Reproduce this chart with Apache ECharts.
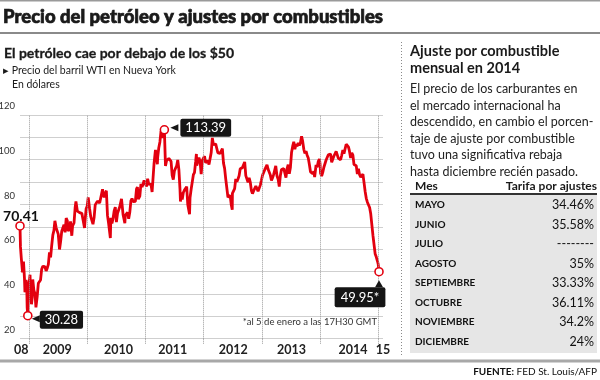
<!DOCTYPE html>
<html><head><meta charset="utf-8">
<script src="https://cdn.jsdelivr.net/npm/echarts@6/dist/echarts.min.js"></script>
<style>html,body{margin:0;padding:0;background:#fff}#c{width:600px;height:380px}</style>
</head><body><div id="c"></div>
<script>
const dates = [
'2008-11-04','2008-11-07','2008-11-12','2008-11-14','2008-11-20','2008-11-21','2008-11-26','2008-12-02','2008-12-05','2008-12-09','2008-12-12','2008-12-16','2008-12-19','2008-12-23','2008-12-26','2008-12-31',
'2009-01-06','2009-01-09','2009-01-15','2009-01-20','2009-01-23','2009-01-30','2009-02-06','2009-02-12','2009-02-18','2009-02-20','2009-02-27','2009-03-06','2009-03-13','2009-03-20','2009-03-27','2009-04-03','2009-04-09','2009-04-17','2009-04-24','2009-05-01','2009-05-08','2009-05-15','2009-05-22','2009-05-29','2009-06-05','2009-06-11','2009-06-19','2009-06-26','2009-07-02','2009-07-10','2009-07-17','2009-07-24','2009-07-31','2009-08-07','2009-08-14','2009-08-21','2009-08-28','2009-09-02','2009-09-11','2009-09-17','2009-09-25','2009-09-30','2009-10-09','2009-10-16','2009-10-21','2009-10-30','2009-11-06','2009-11-13','2009-11-20','2009-11-27','2009-12-04','2009-12-14','2009-12-18','2009-12-24','2009-12-31',
'2010-01-06','2010-01-15','2010-01-22','2010-01-29','2010-02-05','2010-02-12','2010-02-19','2010-02-26','2010-03-05','2010-03-12','2010-03-19','2010-03-26','2010-04-06','2010-04-09','2010-04-16','2010-04-23','2010-04-30','2010-05-07','2010-05-14','2010-05-20','2010-05-25','2010-05-28','2010-06-04','2010-06-11','2010-06-18','2010-06-25','2010-07-02','2010-07-09','2010-07-16','2010-07-23','2010-07-30','2010-08-03','2010-08-13','2010-08-24','2010-08-27','2010-09-03','2010-09-10','2010-09-17','2010-09-24','2010-10-01','2010-10-08','2010-10-15','2010-10-22','2010-10-29','2010-11-05','2010-11-11','2010-11-16','2010-11-19','2010-11-26','2010-12-03','2010-12-10','2010-12-17','2010-12-23','2010-12-31',
'2011-01-03','2011-01-07','2011-01-14','2011-01-21','2011-01-28','2011-02-04','2011-02-11','2011-02-18','2011-02-23','2011-02-25','2011-03-04','2011-03-11','2011-03-16','2011-03-18','2011-03-25','2011-04-01','2011-04-08','2011-04-15','2011-04-21','2011-04-29','2011-05-06','2011-05-13','2011-05-20','2011-05-27','2011-06-03','2011-06-10','2011-06-17','2011-06-24','2011-07-01','2011-07-08','2011-07-15','2011-07-22','2011-07-29','2011-08-05','2011-08-08','2011-08-12','2011-08-19','2011-08-26','2011-09-02','2011-09-09','2011-09-16','2011-09-23','2011-09-30','2011-10-04','2011-10-07','2011-10-14','2011-10-21','2011-10-28','2011-11-04','2011-11-11','2011-11-16','2011-11-18','2011-11-25','2011-12-02','2011-12-09','2011-12-16','2011-12-23','2011-12-30',
'2012-01-06','2012-01-13','2012-01-20','2012-01-27','2012-02-03','2012-02-10','2012-02-17','2012-02-24','2012-03-02','2012-03-09','2012-03-16','2012-03-23','2012-03-30','2012-04-06','2012-04-13','2012-04-20','2012-04-27','2012-05-04','2012-05-11','2012-05-18','2012-05-25','2012-06-01','2012-06-08','2012-06-15','2012-06-22','2012-06-28','2012-06-29','2012-07-06','2012-07-13','2012-07-20','2012-07-27','2012-08-03','2012-08-10','2012-08-17','2012-08-24','2012-08-31','2012-09-07','2012-09-14','2012-09-21','2012-09-28','2012-10-05','2012-10-12','2012-10-19','2012-10-26','2012-11-02','2012-11-09','2012-11-16','2012-11-23','2012-11-30','2012-12-07','2012-12-14','2012-12-21','2012-12-28',
'2013-01-04','2013-01-11','2013-01-18','2013-01-25','2013-02-01','2013-02-08','2013-02-15','2013-02-22','2013-03-01','2013-03-08','2013-03-15','2013-03-22','2013-03-28','2013-04-05','2013-04-12','2013-04-19','2013-04-26','2013-05-03','2013-05-10','2013-05-17','2013-05-24','2013-05-31','2013-06-07','2013-06-14','2013-06-21','2013-06-28','2013-07-05','2013-07-12','2013-07-19','2013-07-26','2013-08-02','2013-08-09','2013-08-16','2013-08-23','2013-08-30','2013-09-06','2013-09-13','2013-09-20','2013-09-27','2013-10-04','2013-10-11','2013-10-18','2013-10-25','2013-11-01','2013-11-08','2013-11-15','2013-11-22','2013-11-27','2013-12-06','2013-12-13','2013-12-20','2013-12-27','2013-12-31',
'2014-01-03','2014-01-10','2014-01-17','2014-01-24','2014-01-31','2014-02-07','2014-02-14','2014-02-21','2014-02-28','2014-03-07','2014-03-14','2014-03-21','2014-03-28','2014-04-04','2014-04-11','2014-04-18','2014-04-25','2014-05-02','2014-05-09','2014-05-16','2014-05-23','2014-05-30','2014-06-06','2014-06-13','2014-06-20','2014-06-27','2014-07-03','2014-07-11','2014-07-18','2014-07-25','2014-08-01','2014-08-08','2014-08-15','2014-08-22','2014-08-29','2014-09-05','2014-09-12','2014-09-19','2014-09-26','2014-10-03','2014-10-10','2014-10-17','2014-10-24','2014-10-31','2014-11-07','2014-11-14','2014-11-21','2014-11-28','2014-12-05','2014-12-12','2014-12-19','2014-12-26','2014-12-31',
'2015-01-02','2015-01-05'];
const prices = [
70.41,61.04,56.16,57.04,49.62,49.93,54.44,46.96,40.81,42.07,46.28,44.60,33.87,30.28,37.71,44.60,
48.58,40.83,35.40,38.74,46.47,41.68,40.17,33.98,34.62,38.94,44.76,45.52,46.25,51.06,52.38,52.51,52.24,50.33,51.55,53.20,58.63,56.34,61.67,66.31,68.44,72.68,69.55,69.16,66.73,59.89,63.56,68.05,69.45,70.93,67.51,73.89,72.74,68.05,69.29,72.47,66.02,70.46,71.77,78.53,81.37,77.00,77.43,76.35,76.72,76.05,75.47,69.51,73.36,78.05,79.36,
83.18,78.00,74.54,72.89,71.19,74.13,79.81,79.66,81.50,81.24,80.68,80.00,86.84,84.92,83.24,85.12,86.15,75.11,71.61,68.01,65.00,74.00,71.51,73.78,77.18,78.86,72.14,76.09,76.01,78.98,78.95,82.55,75.39,71.63,75.17,74.60,76.45,73.66,76.49,81.58,82.66,81.25,81.69,81.43,86.85,87.81,82.34,81.51,83.76,89.19,87.79,88.02,90.76,91.38,
91.55,88.03,91.54,89.11,89.34,89.03,85.58,86.20,98.10,97.88,104.42,101.16,97.98,101.07,105.40,107.94,112.79,109.66,112.29,113.39,97.18,99.65,99.49,100.59,100.22,99.29,93.01,91.16,94.94,96.20,97.24,99.87,95.70,86.88,81.31,85.38,82.26,85.37,86.45,87.24,87.96,79.85,79.20,75.67,82.98,86.80,87.40,93.32,94.26,98.99,102.59,97.41,96.77,100.96,99.41,93.53,99.68,98.83,
101.56,98.70,98.46,99.56,97.84,98.67,103.24,109.77,106.70,107.40,107.06,106.87,103.02,103.31,102.83,103.05,104.93,98.49,96.13,91.48,90.86,83.23,84.10,84.03,79.76,77.69,84.96,84.45,87.10,91.44,90.13,91.40,92.87,96.01,96.15,96.47,96.42,99.00,92.89,92.19,89.88,91.86,90.05,86.28,84.86,86.07,86.67,88.28,88.91,85.93,86.73,88.66,90.80,
93.09,93.56,95.56,95.88,97.77,95.72,95.86,93.13,90.68,91.95,93.45,93.71,97.23,92.70,91.29,88.01,93.00,95.61,96.04,96.02,94.15,91.97,96.03,97.85,93.69,96.56,103.22,105.95,108.05,104.70,106.94,106.03,107.46,106.42,107.65,110.53,108.21,104.67,102.87,103.84,102.02,100.81,97.85,94.61,94.60,93.84,94.84,92.30,97.65,96.60,99.32,100.32,98.17,
93.96,92.72,94.37,96.64,97.49,99.88,100.30,102.20,102.59,102.58,98.89,99.46,101.67,101.14,103.74,104.30,100.60,99.76,99.99,102.02,104.35,102.71,102.66,106.91,107.26,105.74,104.06,100.83,103.13,102.09,97.88,97.65,97.35,93.65,95.96,93.29,92.27,92.41,93.54,89.74,85.82,82.75,81.01,80.54,78.65,75.82,76.51,66.15,65.84,57.81,56.52,54.73,53.27,
52.69,49.95];

const yearStarts = ['2009-01-01','2010-01-01','2011-01-01','2012-01-01','2013-01-01','2014-01-01','2015-01-01'];
const xLabelDates = ['2008-11-12','2009-06-25','2010-07-15','2011-06-20','2012-07-05','2013-07-05','2014-07-25','2015-01-30'];
const xLabelTexts = ['08','2009','2010','2011','2012','2013','2014','15'];

const callouts = [
  {date:'2008-11-04', value:70.41, text:'70.41'},
  {date:'2008-12-23', value:30.28, text:'30.28'},
  {date:'2011-04-29', value:113.39, text:'113.39'},
  {date:'2015-01-05', value:49.95, text:'49.95*'}
];

const months = ['MAYO','JUNIO','JULIO','AGOSTO','SEPTIEMBRE','OCTUBRE','NOVIEMBRE','DICIEMBRE'];
const tarifas = ['34.46%','35.58%','--------','35%','33.33%','36.11%','34.2%','24%'];

const paragraph = ['El precio de los carburantes en','el mercado internacional ha','descendido, en cambio el porcen-','taje de ajuste por combustible','tuvo una significativa rebaja','hasta diciembre recién pasado.'];

const FONT = 'Lato, "Noto Sans", sans-serif';
const RED = '#e3000f';
const INK = '#1a1a1a';
const t = s => Date.UTC(+s.slice(0,4), +s.slice(5,7)-1, +s.slice(8,10));

const chart = echarts.init(document.getElementById('c'), null, {renderer:'canvas'});

const seriesData = dates.map((d,i)=>[t(d), prices[i]]);
const xLabelTs = xLabelDates.map(t);

const circle = c => ({coord:[t(c.date), c.value], symbol:'circle', symbolSize:8,
  itemStyle:{color:'#fff', borderColor:RED, borderWidth:1.6}, label:{show:false}});

const boxLabel = {color:'#fff', backgroundColor:'#151515', borderRadius:2, padding:[3,5,2,5], fontSize:13, fontFamily:FONT};

const markData = [
  {coord:[t(callouts[0].date), callouts[0].value], symbol:'circle', symbolSize:8,
    itemStyle:{color:'#fff', borderColor:RED, borderWidth:1.6},
    label:{show:true, formatter:callouts[0].text, position:'top', distance:1, offset:[1,3], color:'#111', fontWeight:'bold', fontSize:14, fontFamily:FONT}},
  circle(callouts[1]),
  circle(callouts[2]),
  circle(callouts[3]),
  {coord:[t(callouts[1].date), callouts[1].value], symbol:'triangle', symbolSize:[7,8], symbolRotate:90, symbolOffset:[8,3],
    itemStyle:{color:'#151515'},
    label:Object.assign({show:true, formatter:callouts[1].text, position:'right', distance:3, offset:[-3,1]}, boxLabel)},
  {coord:[t(callouts[2].date), callouts[2].value], symbol:'triangle', symbolSize:[7,8], symbolRotate:90, symbolOffset:[10,-2],
    itemStyle:{color:'#151515'},
    label:Object.assign({show:true, formatter:callouts[2].text, position:'right', distance:3, offset:[-1,0]}, boxLabel)},
  {coord:[t(callouts[3].date), callouts[3].value], symbol:'triangle', symbolSize:[8,7], symbolOffset:[0,12],
    itemStyle:{color:'#151515'},
    label:Object.assign({show:true, formatter:callouts[3].text, position:'bottom', distance:2, offset:[-19,-2]}, boxLabel, {padding:[4,6,3,6]})}
];

const graphics = [];
graphics.push({type:'rect', shape:{x:0,y:0,width:600,height:1.5}, style:{fill:'#9a9a9a'}});
graphics.push({type:'rect', shape:{x:0,y:32,width:600,height:2}, style:{fill:'#8a8a8a'}});
graphics.push({type:'rect', shape:{x:0,y:359.5,width:600,height:3}, style:{fill:'#a8a8a8'}});
graphics.push({type:'line', shape:{x1:401.5,y1:42,x2:401.5,y2:355}, style:{stroke:'#8a8a8a', lineWidth:1, lineDash:[1,2]}});
graphics.push({type:'text', x:3, y:17, style:{text:'Precio del petróleo y ajustes por combustibles', font:'900 18.5px '+FONT, fill:INK, stroke:INK, lineWidth:0.7, textVerticalAlign:'middle'}});
graphics.push({type:'text', x:4, y:53, style:{text:'El petróleo cae por debajo de los $50', font:'bold 14px '+FONT, fill:INK, stroke:INK, lineWidth:0.3, textVerticalAlign:'middle'}});
graphics.push({type:'text', x:3, y:71, style:{text:'▸ Precio del barril WTI en Nueva York', font:'10.5px '+FONT, fill:INK, textVerticalAlign:'middle'}});
graphics.push({type:'text', x:12, y:85, style:{text:'En dólares', font:'10.5px '+FONT, fill:INK, textVerticalAlign:'middle'}});
graphics.push({type:'text', x:377, y:322, style:{text:'*al 5 de enero a las 17H30 GMT', font:'9.5px '+FONT, fill:'#333', textAlign:'right', textVerticalAlign:'middle'}});
graphics.push({type:'text', x:410, y:51, style:{text:'Ajuste por combustible', font:'bold 14.5px '+FONT, fill:INK, textVerticalAlign:'middle'}});
graphics.push({type:'text', x:410, y:68, style:{text:'mensual en 2014', font:'bold 14.5px '+FONT, fill:INK, textVerticalAlign:'middle'}});
paragraph.forEach((line,i)=>{
  graphics.push({type:'text', x:410, y:89 + i*16.6, style:{text:line, font:'12.5px '+FONT, fill:'#222', textVerticalAlign:'middle'}});
});
graphics.push({type:'text', x:415, y:186, style:{text:'Mes', font:'bold 12px '+FONT, fill:INK, textVerticalAlign:'middle'}});
graphics.push({type:'text', x:597, y:186, style:{text:'Tarifa por ajustes', font:'bold 12px '+FONT, fill:INK, textAlign:'right', textVerticalAlign:'middle'}});
graphics.push({type:'rect', shape:{x:410,y:195,width:187,height:158}, style:{fill:'#e6e6e6'}});
graphics.push({type:'rect', shape:{x:410,y:193,width:187,height:2}, style:{fill:'#333'}});
months.forEach((m,i)=>{
  const y = 205 + i*19.5;
  graphics.push({type:'text', x:415, y:y, style:{text:m, font:'bold 10px '+FONT, fill:'#111', textVerticalAlign:'middle'}});
  graphics.push({type:'text', x:594, y:y, style:{text:tarifas[i], font:'12.5px '+FONT, fill:'#111', textAlign:'right', textVerticalAlign:'middle'}});
});
graphics.push({type:'text', x:597, y:372, style:{text:'{b|FUENTE:} FED St. Louis/AFP', rich:{b:{font:'bold 10px '+FONT, fill:'#111'}}, font:'10px '+FONT, fill:'#111', textAlign:'right', textVerticalAlign:'middle'}});

chart.setOption({
  animation:false,
  backgroundColor:'#fff',
  textStyle:{fontFamily:FONT},
  grid:{left:20, right:217, top:115, bottom:41.3, containLabel:false, outerBoundsMode:'none'},
  xAxis:{
    type:'value', min:t('2008-11-04'), max:t('2015-01-30'),
    axisLine:{show:false},
    splitLine:{show:false},
    axisTick:{show:true, customValues:yearStarts.map(t), length:5, lineStyle:{color:'#999', type:'dotted', width:1}},
    axisLabel:{customValues:xLabelTs, formatter:v=>xLabelTexts[xLabelTs.indexOf(v)] || '', fontSize:12.5, fontWeight:'bold', color:'#222', margin:5, fontFamily:FONT, hideOverlap:false, showMinLabel:true, showMaxLabel:true}
  },
  yAxis:{
    type:'value', min:20, max:120, interval:10,
    axisLine:{show:false}, axisTick:{show:false},
    splitLine:{lineStyle:{color:'#cfcfcf', width:1}},
    axisLabel:{formatter:v=> (v%20===0 ? String(v) : ''), fontSize:9.5, color:'#333', margin:5, verticalAlign:'bottom', padding:[0,0,4,0], fontFamily:FONT}
  },
  series:[{
    type:'line', data:seriesData, showSymbol:false, symbol:'none',
    lineStyle:{color:RED, width:2.8}, z:3,
    markLine:{silent:true, symbol:['none','none'], label:{show:false},
      lineStyle:{color:'#9a9a9a', type:'dotted', width:1},
      data:yearStarts.map(d=>({xAxis:t(d)}))},
    markPoint:{silent:true, data:markData, z:5}
  }],
  graphic:graphics
});
</script>
</body></html>
